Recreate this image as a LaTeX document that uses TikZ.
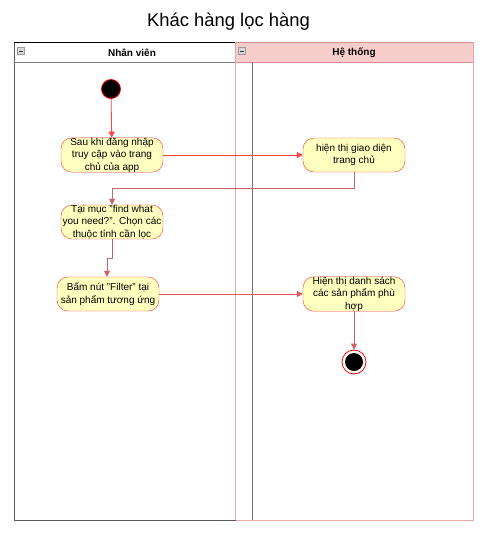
\documentclass[tikz,border=0pt]{standalone}
\usepackage{fontspec}
\setmainfont{Liberation Sans}
\usetikzlibrary{arrows.meta,positioning}
\definecolor{actfill}{HTML}{FFFFC0}
\definecolor{actline}{HTML}{FF3333}
\definecolor{hdrfill}{HTML}{F8CECC}
\definecolor{hdrline}{HTML}{D98C8C}
\definecolor{laneline}{HTML}{E8A8A8}
\definecolor{flowA}{HTML}{FF4444}
\definecolor{flowB}{HTML}{C86464}
\definecolor{flowC}{HTML}{E05A5A}
\tikzset{
  act/.style={draw=actline, fill=actfill, rounded corners=11pt, minimum width=102pt, minimum height=34pt,
    align=center, font=\fontsize{10}{12.5}\selectfont, inner sep=0pt},
  flow/.style={draw=#1, line width=0.8pt, -{Triangle[length=6pt,width=6pt]}},
  icon/.style={draw=gray!80, fill=gray!30, minimum size=7pt, inner sep=0pt},
  hdr/.style={font=\fontsize{10}{11}\selectfont\bfseries}
}
\begin{document}
\begin{tikzpicture}[x=1pt,y=-1pt]
\useasboundingbox (0,0) rectangle (487,544);
% title
\node[font=\fontsize{18.4}{22}\selectfont] (title) at (228.5,22) {Khác hàng lọc hàng};
% right lane
\fill[hdrfill] (235,42) rectangle (473,62);
\draw[laneline, line width=1pt] (235,42) rectangle (473,520);
\draw[hdrline, line width=1pt] (235,42) -- (473,42) (235,62) -- (473,62);
\draw[gray!90!black, line width=1pt] (252,62) -- (252,520);
% left lane
\draw[gray!70!black, line width=1pt] (14,42) rectangle (235,520);
\draw[black, line width=1pt] (14,42) -- (235,42);
\draw[gray, line width=1pt] (14,62) -- (235,62);
\draw[laneline, line width=1pt] (235,42) -- (235,520);
% header icons
\node[icon] (i1) at (21,51) {};
\draw[gray!40!black, line width=1pt] ([xshift=1.5pt]i1.west) -- ([xshift=-1.5pt]i1.east);
\node[icon] (i2) at (242,51) {};
\draw[gray!40!black, line width=1pt] ([xshift=1.5pt]i2.west) -- ([xshift=-1.5pt]i2.east);
\node[hdr] (h1) at (132,52.5) {Nhân viên};
\node[hdr] (h2) at (354,52.5) {Hệ thống};
% nodes
\node[circle, fill=black, draw=red, line width=0.8pt, minimum size=19pt, inner sep=0pt] (start) at (111,89) {};
\node[act] (a1) at (112,155) {Sau khi đăng nhập\\truy cập vào trang\\chủ của app};
\node[act] (a2) at (112,222) {Tại mục "find what\\you need?". Chọn các\\thuộc tính cần lọc};
\node[act] (a3) at (108,294) {Bấm nút "Filter" tại\\sản phẩm tương ứng};
\node[act] (b1) at (354,155) {hiện thị giao diện\\trang chủ};
\node[act] (b2) at (354,294) {Hiện thị danh sách\\các sản phẩm phù\\hợp};
\node[circle, draw=red, fill=white, line width=0.8pt, minimum size=24pt, inner sep=0pt] (end) at (354,362) {};
\node[circle, fill=black, minimum size=18pt, inner sep=0pt] (endin) at (end.center) {};
% flows
\draw[flow=flowA] (start) -- (a1);
\draw[flow=flowA] (a1) -- (b1);
\draw[flow=flowB] (b1.south) |- (112,188) -- (a2.north);
\draw[flow=flowB] (a2.south) |- (107,258) -- (a3.north -| 107,0);
\draw[flow=flowC] (a3) -- (b2);
\draw[flow=flowB] (b2) -- (end);
\end{tikzpicture}
\end{document}
